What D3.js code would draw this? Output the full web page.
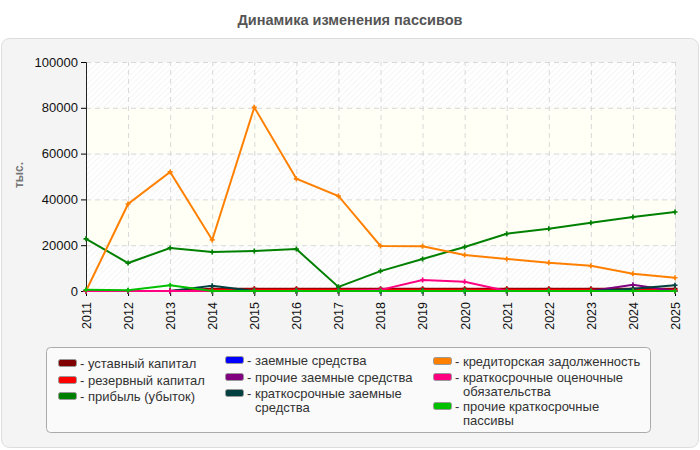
<!DOCTYPE html>
<html>
<head>
<meta charset="utf-8">
<script src="https://cdn.jsdelivr.net/npm/d3@7"></script>
<style>
  body { margin: 0; background: #fff; font-family: "Liberation Sans", Arial, sans-serif; }
  .tick text { font-size: 13px; fill: #111; }
  .axis--x .tick text { font-size: 12.5px; }
  .grid line { stroke: #d8d8d8; stroke-dasharray: 5,4; }
  .grid .domain { display: none; }
  .legend-text { font-size: 13px; fill: #333; }
</style>
</head>
<body>
<svg width="700" height="450"></svg>
<script>
var years = ["2011","2012","2013","2014","2015","2016","2017","2018","2019","2020","2021","2022","2023","2024","2025"];
var yTicks = [0, 20000, 40000, 60000, 80000, 100000];

var ustavny    = [0, 0, 0, 1000, 1000, 1000, 1000, 1000, 1000, 1000, 1000, 1000, 1000, 1000, 1000];
var rezervny   = [0, 0, 0, 500, 500, 500, 500, 500, 500, 500, 500, 500, 500, 500, 500];
var pribyl     = [22800, 12200, 18800, 17000, 17500, 18300, 1800, 8700, 14000, 19200, 25000, 27200, 29800, 32300, 34500];
var zaemnye    = [0, 0, 0, 0, 0, 0, 0, 0, 0, 0, 0, 0, 0, 0, 0];
var prochieZ   = [0, 0, 0, 0, 0, 0, 0, 0, 0, 0, 0, 0, 0, 2700, 0];
var kratkoZ    = [0, 0, 0, 2300, 0, 0, 0, 0, 0, 0, 0, 0, 0, 1000, 2500];
var kreditor   = [0, 38000, 52000, 22300, 80200, 49000, 41500, 19700, 19500, 15700, 14000, 12300, 11000, 7500, 5800];
var ocenochnye = [0, 0, 0, 0, 0, 0, 0, 500, 4800, 4000, 0, 0, 0, 0, 0];
var prochieKP  = [500, 300, 2500, 0, 0, 0, 0, 0, 0, 0, 0, 0, 0, 0, 0];

var series = [
  {name: "уставный капитал", color: "#800000", values: ustavny},
  {name: "резервный капитал", color: "#ff0000", values: rezervny},
  {name: "прибыль (убыток)", color: "#008000", values: pribyl},
  {name: "заемные средства", color: "#0000ff", values: zaemnye},
  {name: "прочие заемные средства", color: "#800080", values: prochieZ},
  {name: "краткосрочные заемные средства", color: "#004040", values: kratkoZ},
  {name: "кредиторская задолженность", color: "#ff8000", values: kreditor},
  {name: "краткосрочные оценочные обязательства", color: "#ff0080", values: ocenochnye},
  {name: "прочие краткосрочные пассивы", color: "#00c000", values: prochieKP}
];

var svg = d3.select("svg");
var margin = {top: 62, left: 86, right: 25, bottom: 159};
var width = 700 - margin.left - margin.right,
    height = 450 - margin.top - margin.bottom;

var defs = svg.append("defs");
var pat = defs.append("pattern")
    .attr("id", "hatch")
    .attr("patternUnits", "userSpaceOnUse")
    .attr("width", 4).attr("height", 4)
    .attr("patternTransform", "rotate(45)");
pat.append("rect").attr("width", 4).attr("height", 4).attr("fill", "#fff");
pat.append("line").attr("x1", 0).attr("y1", 0).attr("x2", 0).attr("y2", 4)
    .attr("stroke", "#ececec").attr("stroke-width", 1);

// outer panel
svg.append("rect")
    .attr("x", 1.5).attr("y", 38.5).attr("width", 697).attr("height", 409)
    .attr("rx", 8)
    .attr("fill", "#f4f4f4").attr("stroke", "#dddddd");

svg.append("text")
    .attr("x", 350).attr("y", 25)
    .attr("text-anchor", "middle")
    .style("font-size", "14.5px").style("font-weight", "bold").style("fill", "#555")
    .text("Динамика изменения пассивов");

var x = d3.scalePoint().domain(years).range([0, width]);
var y = d3.scaleLinear().domain([0, 100000]).range([height, 0]);

var g = svg.append("g")
    .attr("transform", "translate(" + margin.left + "," + margin.top + ")");

// background bands
g.selectAll(".band").data(yTicks.slice(0, -1)).enter().append("rect")
    .attr("class", "band")
    .attr("x", 0)
    .attr("y", function(d){ return y(d + 20000); })
    .attr("width", width)
    .attr("height", function(d){ return y(d) - y(d + 20000); })
    .attr("fill", function(d, i){ return i % 2 == 0 ? "url(#hatch)" : "#fffff6"; });

g.append("g")
    .attr("class", "grid")
    .call(d3.axisLeft(y).tickValues(yTicks).tickSize(-width).tickFormat(""));

g.append("g")
    .attr("class", "grid")
    .attr("transform", "translate(0," + height + ")")
    .call(d3.axisBottom(x).tickSize(-height).tickFormat(""));

g.append("g")
    .attr("class", "axis axis--y")
    .call(d3.axisLeft(y).tickValues(yTicks).tickSize(5).tickFormat(d3.format("d")))
    .call(function(a){ a.select(".domain").attr("stroke", "#222"); });

var xAxis = g.append("g")
    .attr("class", "axis axis--x")
    .attr("transform", "translate(0," + height + ")")
    .call(d3.axisBottom(x).tickSize(5));
xAxis.select(".domain").attr("stroke", "#222");
xAxis.selectAll("text")
    .attr("transform", "rotate(-90)")
    .attr("x", -11).attr("y", 0).attr("dy", "0.35em")
    .style("text-anchor", "end");

svg.append("text")
    .attr("transform", "translate(23,175) rotate(-90)")
    .attr("text-anchor", "middle")
    .style("font-size", "12px").style("font-weight", "bold").style("fill", "#777")
    .text("тыс.");

var line = d3.line()
    .x(function(d, i){ return x(years[i]); })
    .y(function(d){ return y(d); });

series.forEach(function(s){
  g.append("path")
      .datum(s.values)
      .attr("fill", "none")
      .attr("stroke", s.color)
      .attr("stroke-width", 2)
      .attr("d", line);
  g.selectAll(null).data(s.values).enter().append("path")
      .attr("transform", function(d, i){ return "translate(" + x(years[i]) + "," + y(d) + ")"; })
      .attr("d", d3.symbol().type(d3.symbolCross).size(14))
      .attr("fill", s.color);
});

// legend
var lg = svg.append("g");
lg.append("rect")
    .attr("x", 46.5).attr("y", 347.5).attr("width", 604).attr("height", 85)
    .attr("rx", 4)
    .attr("fill", "#fafafa").attr("stroke", "#aaa");

var legendPos = [
  {x: 58, y: 363, lines: ["уставный капитал"]},
  {x: 58, y: 380, lines: ["резервный капитал"]},
  {x: 58, y: 396, lines: ["прибыль (убыток)"]},
  {x: 225, y: 360, lines: ["заемные средства"]},
  {x: 225, y: 377, lines: ["прочие заемные средства"]},
  {x: 225, y: 393, lines: ["краткосрочные заемные", "средства"]},
  {x: 433, y: 361, lines: ["кредиторская задолженность"]},
  {x: 433, y: 377, lines: ["краткосрочные оценочные", "обязательства"]},
  {x: 433, y: 406, lines: ["прочие краткосрочные", "пассивы"]}
];

series.forEach(function(s, i){
  var p = legendPos[i];
  var it = lg.append("g").attr("transform", "translate(" + p.x + "," + p.y + ")");
  it.append("rect")
      .attr("x", 0.5).attr("y", -3.5).attr("width", 18).attr("height", 7)
      .attr("rx", 2)
      .attr("fill", s.color).attr("stroke", "#999");
  var t = it.append("text")
      .attr("class", "legend-text")
      .attr("x", 22).attr("y", 4.5);
  t.append("tspan").text("- " + p.lines[0]);
  for (var k = 1; k < p.lines.length; k++) {
    t.append("tspan").attr("x", 30).attr("dy", 14).text(p.lines[k]);
  }
});
</script>
</body>
</html>
